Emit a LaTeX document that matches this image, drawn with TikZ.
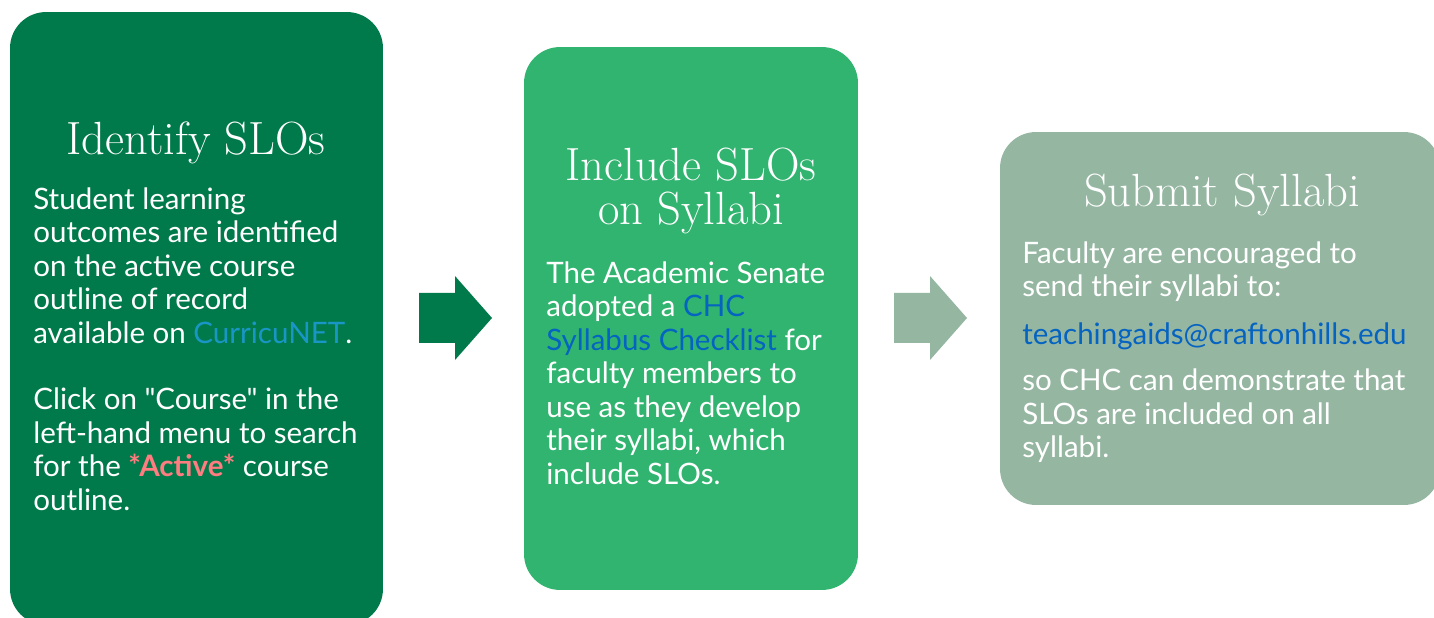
\documentclass[tikz,border=0pt]{standalone}
\usepackage{fontspec}
\newfontfamily\bodyfont{Lato}
\usetikzlibrary{positioning}
\definecolor{darkgreen}{HTML}{007A4B}
\definecolor{midgreen}{HTML}{31B46F}
\definecolor{sage}{HTML}{95B6A1}
\definecolor{netblue}{HTML}{1A96C6}
\definecolor{linkblue}{HTML}{0563C1}
\definecolor{salmon}{HTML}{FF7C80}
\tikzset{x=0.02cm,y=-0.02cm,
  card/.style={rectangle,rounded corners=0.72cm,inner sep=0pt},
  heading/.style={text=white,font=\fontsize{26.5}{25}\selectfont,align=center,inner sep=0pt},
  bodytext/.style={text=white,font=\bodyfont\fontsize{16.8}{19.1}\selectfont,align=left,anchor=north west,inner sep=0pt}}

\begin{document}
\begin{tikzpicture}
              \useasboundingbox (0,0) rectangle (1434,618);
              \clip (0,0) rectangle (1434,618);

              \node (ident) [card,fill=darkgreen,minimum width=7.46cm,minimum height=12.26cm] at (196.5,318.5) {};
              \node (incl) [card,fill=midgreen,minimum width=6.68cm,minimum height=10.86cm] at (691,318.5) {};
              \node (subm) [card,fill=sage,minimum width=8.8cm,minimum height=7.46cm] at (1220,318.5) {};

              \foreach \ax/\col in {419/darkgreen,894/sage}
                \fill[\col] (\ax,293) -- ++(36,0) -- ++(0,-17) -- ++(37,42) -- ++(-37,42) -- ++(0,-17) -- ++(-36,0) -- cycle;

              \node (identT) [heading,anchor=base] at (196,155) {Identify SLOs};
              \node (identB) [bodytext] at (33,187) {Student learning\\
                outcomes are identified\\
                on the active course\\
                outline of record\\
                available on \textcolor{netblue}{CurricuNET}.\\[0.66cm]
                Click on "Course" in the\\
                left-hand menu to search\\
                for the \textcolor{salmon}{\bfseries *Active*} course\\
                outline.};

              \node (inclT) [heading,anchor=north] at (691,148) {Include SLOs\\on Syllabi};
              \node (inclB) [bodytext] at (546,261) {The Academic Senate\\
                adopted a \textcolor{linkblue}{CHC}\\
                \textcolor{linkblue}{Syllabus Checklist} for\\
                faculty members to\\
                use as they develop\\
                their syllabi, which\\
                include SLOs.};

              \node (submT) [heading,anchor=base] at (1222,207) {Submit Syllabi};
              \node (submB) [bodytext] at (1022,241) {Faculty are encouraged to\\
                send their syllabi to:\\[0.28cm]
                \textcolor{linkblue}{teachingaids@craftonhills.edu}\\[0.26cm]
                so CHC can demonstrate that\\
                SLOs are included on all\\
                syllabi.};
\end{tikzpicture}
\end{document}
